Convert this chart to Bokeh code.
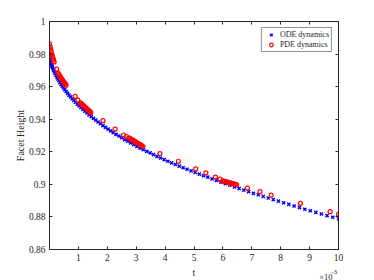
from bokeh.plotting import figure
from bokeh.models import Range1d, LinearAxis, FixedTicker, Label, CustomJSTickFormatter
from bokeh.embed import file_html
from bokeh.resources import INLINE

# ---- data (t in units of 1e-3) ----
ode_t = [0, 0.001, 0.004, 0.009, 0.016, 0.025, 0.036, 0.049, 0.064, 0.081,
         0.1, 0.121, 0.144, 0.169, 0.196, 0.225, 0.256, 0.289, 0.324, 0.361,
         0.4, 0.441, 0.484, 0.529, 0.576, 0.625, 0.676, 0.729, 0.784, 0.841,
         0.9, 0.961, 1.024, 1.089, 1.156, 1.225, 1.296, 1.369, 1.444, 1.521,
         1.6, 1.681, 1.764, 1.849, 1.936, 2.025, 2.116, 2.209, 2.304, 2.401,
         2.5, 2.601, 2.704, 2.809, 2.916, 3.025, 3.136, 3.249, 3.364, 3.481,
         3.6, 3.721, 3.844, 3.969, 4.096, 4.225, 4.356, 4.489, 4.624, 4.761,
         4.9, 5.041, 5.184, 5.329, 5.476, 5.625, 5.776, 5.929, 6.084, 6.241,
         6.4, 6.561, 6.724, 6.889, 7.056, 7.225, 7.396, 7.569, 7.744, 7.921,
         8.1, 8.281, 8.464, 8.649, 8.836, 9.025, 9.216, 9.409, 9.604, 9.801,
         10.0]
ode_h = [0.9790, 0.9784, 0.9778, 0.9772, 0.9766, 0.9760, 0.9752, 0.9744, 0.9736, 0.9728,
         0.9720, 0.9710, 0.9700, 0.9690, 0.9680, 0.9669, 0.9658, 0.9647, 0.9636, 0.9625,
         0.9614, 0.9603, 0.9592, 0.9581, 0.9570, 0.9559, 0.9548, 0.9537, 0.9526, 0.9515,
         0.9504, 0.9493, 0.9482, 0.9471, 0.9460, 0.9449, 0.9438, 0.9427, 0.9416, 0.9405,
         0.9394, 0.9383, 0.9372, 0.9361, 0.9350, 0.9339, 0.9328, 0.9318, 0.9307, 0.9297,
         0.9286, 0.9275, 0.9265, 0.9254, 0.9244, 0.9233, 0.9223, 0.9213, 0.9203, 0.9193,
         0.9183, 0.9172, 0.9162, 0.9152, 0.9142, 0.9132, 0.9122, 0.9112, 0.9102, 0.9093,
         0.9083, 0.9073, 0.9063, 0.9053, 0.9044, 0.9034, 0.9024, 0.9014, 0.9004, 0.8995,
         0.8985, 0.8975, 0.8965, 0.8955, 0.8945, 0.8936, 0.8926, 0.8916, 0.8906, 0.8897,
         0.8887, 0.8877, 0.8867, 0.8857, 0.8847, 0.8838, 0.8828, 0.8818, 0.8808, 0.8798,
         0.8789]

pde_t = [0.00, 0.02, 0.04, 0.06, 0.08, 0.10, 0.12, 0.14, 0.16,
         0.25,
         0.30, 0.325, 0.35, 0.375, 0.40, 0.425, 0.45, 0.475, 0.50, 0.525, 0.55, 0.575,
         0.89, 0.98,
         1.07, 1.10, 1.13, 1.16, 1.19, 1.22, 1.25, 1.28, 1.31, 1.34, 1.37, 1.40, 1.43,
         1.85, 2.27, 2.56, 2.66,
         2.75, 2.79, 2.83, 2.87, 2.91, 2.95, 2.99, 3.03, 3.07, 3.11, 3.15, 3.19, 3.23,
         3.82, 4.46, 5.06, 5.41, 5.74, 5.90,
         5.99, 6.03, 6.07, 6.11, 6.15, 6.19, 6.23, 6.27, 6.31, 6.35, 6.39, 6.43, 6.47,
         6.85, 7.28, 7.67, 8.68, 9.71, 10.0]
pde_h = [0.9862, 0.9845, 0.9830, 0.9815, 0.9800, 0.9787, 0.9775, 0.9763, 0.9752,
         0.9707,
         0.9681, 0.9674, 0.9667, 0.9660, 0.9653, 0.9646, 0.9640, 0.9633, 0.9627, 0.9621, 0.9615, 0.9609,
         0.9540, 0.9517,
         0.9501, 0.9496, 0.9491, 0.9486, 0.9481, 0.9476, 0.9471, 0.9466, 0.9461, 0.9456, 0.9451, 0.9446, 0.9441,
         0.9391, 0.9339, 0.9303, 0.9294,
         0.9285, 0.9281, 0.9277, 0.9273, 0.9268, 0.9264, 0.9260, 0.9255, 0.9251, 0.9247, 0.9243, 0.9238, 0.9234,
         0.9189, 0.9142, 0.9095, 0.9070, 0.9045, 0.9032,
         0.9022, 0.9020, 0.9018, 0.9016, 0.9014, 0.9012, 0.9010, 0.9008, 0.9006, 0.9004, 0.9002, 0.9000, 0.8998,
         0.8977, 0.8955, 0.8934, 0.8883, 0.8832, 0.8817]

x_ticks = [1, 2, 3, 4, 5, 6, 7, 8, 9, 10]
y_ticks = [0.86, 0.88, 0.90, 0.92, 0.94, 0.96, 0.98, 1.00]
y_tick_labels = ["0.86", "0.88", "0.9", "0.92", "0.94", "0.96", "0.98", "1"]

FONT = "Liberation Serif"
AX = "#262626"

p = figure(width=374, height=280, output_backend="svg", toolbar_location=None,
           x_range=Range1d(0, 10), y_range=Range1d(0.86, 1.0),
           min_border_left=49, min_border_right=36, min_border_top=21, min_border_bottom=31,
           x_axis_label="t", y_axis_label="Facet Height")
p.grid.visible = False
p.outline_line_color = AX
p.background_fill_color = "white"
p.border_fill_color = "white"

bottom_axis = p.below[0]
left_axis = p.left[0]

ylab_fmt = CustomJSTickFormatter(args=dict(vals=y_ticks, labs=y_tick_labels), code="""
for (let i = 0; i < vals.length; i++) { if (Math.abs(vals[i] - tick) < 1e-9) return labs[i]; }
return '';
""")

# box-style ticks on top and right (no labels)
top_axis = LinearAxis(ticker=FixedTicker(ticks=x_ticks), major_label_text_color=None,
                      major_label_text_font_size="1px", major_label_standoff=0)
right_axis = LinearAxis(ticker=FixedTicker(ticks=y_ticks), major_label_text_color=None,
                        major_label_text_font_size="1px", major_label_standoff=0)
p.add_layout(top_axis, "above")
p.add_layout(right_axis, "right")

bottom_axis.ticker = FixedTicker(ticks=x_ticks)
left_axis.ticker = FixedTicker(ticks=y_ticks)
left_axis.formatter = ylab_fmt

for ax in (bottom_axis, left_axis, top_axis, right_axis):
    ax.major_tick_in = 3
    ax.major_tick_out = 0
    ax.minor_tick_line_color = None
    ax.axis_line_color = AX
    ax.major_tick_line_color = AX
    ax.axis_line_width = 1

for ax in (bottom_axis, left_axis):
    ax.major_label_text_font = FONT
    ax.major_label_text_color = AX
    ax.major_label_text_font_size = "9.5px"
    ax.major_label_standoff = 4
    ax.axis_label_text_font = FONT
    ax.axis_label_text_font_style = "normal"
    ax.axis_label_text_color = AX
    ax.axis_label_text_font_size = "10px"
bottom_axis.axis_label_standoff = 3
left_axis.axis_label_standoff = 0

p.scatter(ode_t, ode_h, marker="x", size=4.5, line_width=1.4, color="#0000ff",
          legend_label="ODE dynamics")
p.scatter(pde_t, pde_h, marker="circle", size=4.0, line_width=1.2, line_color="#ff0000",
          fill_color=None, legend_label="PDE dynamics")

lg = p.legend[0]
lg.location = "top_right"
lg.margin = 6
lg.padding = 2
lg.spacing = 1
lg.label_height = 9
lg.glyph_height = 9
lg.glyph_width = 14
lg.label_standoff = 2
lg.label_text_font = FONT
lg.label_text_font_size = "8px"
lg.label_text_color = AX
lg.border_line_color = AX
lg.border_line_width = 1
lg.background_fill_alpha = 1

# x10^-3 exponent note under the right end of the x axis (placed via right-side panels)
p.add_layout(Label(x=-6, y=-27, x_units="screen", y_units="screen", text="\u00d710",
                   text_align="right", text_baseline="alphabetic", text_font=FONT,
                   text_font_size="8.5px", text_color=AX), "right")
p.add_layout(Label(x=-20, y=-22, x_units="screen", y_units="screen", text="-3",
                   text_align="left", text_baseline="alphabetic", text_font=FONT,
                   text_font_size="6.5px", text_color=AX), "right")

open("out.html", "w").write(file_html(p, INLINE))
